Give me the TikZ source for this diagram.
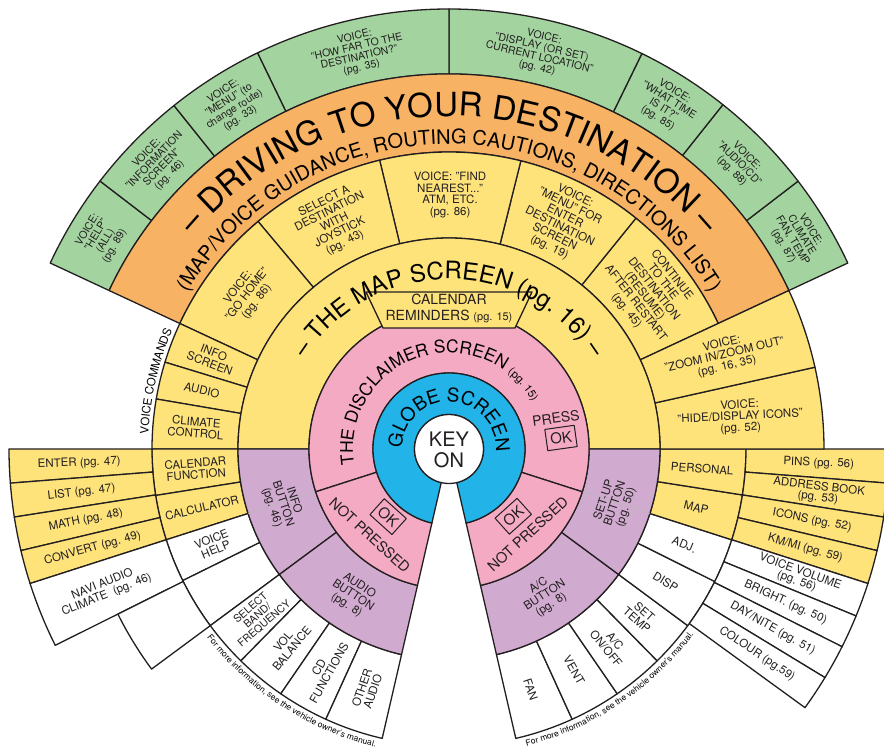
\documentclass[tikz,border=0pt]{standalone}
\usepackage{fontspec}
\setmainfont{TeX Gyre Heros}
\usetikzlibrary{decorations.text}
\definecolor{grn}{HTML}{A3D49F}
\definecolor{org}{HTML}{F8B264}
\definecolor{ylw}{HTML}{FEE37B}
\definecolor{pnk}{HTML}{F5AAC4}
\definecolor{blu}{HTML}{22B3E8}
\definecolor{prp}{HTML}{D1AACF}
\definecolor{ink}{HTML}{231F20}
\newcommand{\ringsec}[5]{\filldraw[fill=#5] (#3:#1) -- (#3:#2) arc[start angle=#3,end angle=#4,radius=#2] -- (#4:#1) arc[start angle=#4,end angle=#3,radius=#1] -- cycle;}
\newcommand{\arctext}[4]{\path[decorate,decoration={text along path,text align=center,text={#4}}] (#2:#1) arc[start angle=#2,end angle=#3,radius=#1];}
\tikzset{
 lab/.style={font=\fontsize{11.5}{11.5}\selectfont, align=center, inner sep=0pt},
 slab/.style={font=\fontsize{10.5}{10.5}\selectfont, align=center, inner sep=0pt},
 glab/.style={font=\fontsize{10.5}{10.5}\selectfont, align=center, inner sep=0pt},
 okbox/.style={draw, line width=1pt, font=\fontsize{15}{15}\selectfont, inner xsep=4pt, inner ysep=5pt},
 bigl/.style={font=\fontsize{14.5}{14.5}\selectfont, inner sep=0pt},
}
\begin{document}
\begin{tikzpicture}[x=1pt,y=1pt,line width=1.3pt,color=ink,line join=round]
\useasboundingbox (-449,-301) rectangle (435,449);
% green ring
\ringsec{375}{440}{25}{37.5}{grn}
\ringsec{375}{440}{37.5}{51.5}{grn}
\ringsec{375}{440}{51.5}{64}{grn}
\ringsec{375}{440}{64}{90}{grn}
\ringsec{375}{440}{90}{115.8}{grn}
\ringsec{375}{440}{115.8}{128.7}{grn}
\ringsec{375}{440}{128.7}{142.5}{grn}
\ringsec{375}{440}{142.5}{155}{grn}
% orange ring
\ringsec{297}{375}{25}{155}{org}
% top yellow boxes
\ringsec{211}{297}{25}{51}{ylw}
\ringsec{211}{297}{51}{76}{ylw}
\ringsec{211}{297}{76}{103.5}{ylw}
\ringsec{211}{297}{103.5}{130}{ylw}
\ringsec{211}{297}{130}{155}{ylw}
% left inner boxes
\ringsec{211}{297}{155}{163}{ylw}
\ringsec{211}{297}{163}{170.3}{ylw}
\ringsec{211}{297}{170.3}{180}{ylw}
\ringsec{211}{297}{180}{189}{ylw}
\ringsec{211}{297}{189}{197.8}{ylw}
\ringsec{211}{297}{197.8}{206.3}{white}
\ringsec{211}{297}{206.3}{216.5}{white}
% left outer boxes
\ringsec{297}{440}{180}{184.45}{ylw}
\ringsec{297}{440}{184.45}{188.9}{ylw}
\ringsec{297}{440}{188.9}{193.35}{ylw}
\ringsec{297}{440}{193.35}{197.8}{ylw}
\ringsec{297}{440}{197.8}{206.5}{white}
\ringsec{297}{370}{206.5}{216.5}{white}
% bottom left boxes
\ringsec{211}{297}{216.5}{225.5}{white}
\ringsec{211}{297}{225.5}{235.5}{white}
\ringsec{211}{297}{235.5}{245.5}{white}
\ringsec{211}{297}{245.5}{257}{white}
% bottom right boxes
\ringsec{211}{297}{283}{294.5}{white}
\ringsec{211}{297}{294.5}{304.5}{white}
\ringsec{211}{297}{304.5}{314.5}{white}
\ringsec{211}{297}{314.5}{323.5}{white}
\ringsec{211}{297}{323.5}{333.5}{white}
\ringsec{211}{297}{333.5}{342.2}{white}
\ringsec{211}{297}{342.2}{351.1}{ylw}
\ringsec{211}{297}{351.1}{360}{ylw}
% right outer boxes
\ringsec{297}{440}{355.55}{360}{ylw}
\ringsec{297}{440}{351.1}{355.55}{ylw}
\ringsec{297}{440}{346.65}{351.1}{ylw}
\ringsec{297}{440}{342.2}{346.65}{ylw}
\ringsec{297}{440}{337.7}{342.2}{white}
\ringsec{297}{440}{333.3}{337.7}{white}
\ringsec{297}{440}{328.7}{333.3}{white}
\ringsec{297}{440}{324}{328.7}{white}
% right big yellow
\ringsec{211}{375}{0}{12.6}{ylw}
\ringsec{211}{375}{12.6}{25}{ylw}
% map screen ring
\ringsec{140}{211}{0}{180}{ylw}
% purple
\ringsec{140}{211}{180}{216.5}{prp}
\ringsec{140}{211}{216.5}{257}{prp}
\ringsec{140}{211}{283}{323.5}{prp}
\ringsec{140}{211}{323.5}{360}{prp}
\draw[gray!55,line width=0.6pt] (197.8:140) -- (197.8:211);
\draw[gray!55,line width=0.6pt] (342.2:140) -- (342.2:211);
% pink
\ringsec{76}{140}{-17.8}{197.8}{pnk}
\ringsec{76}{140}{197.8}{257}{pnk}
\ringsec{76}{140}{283}{342.2}{pnk}
% blue
\ringsec{34.5}{76}{-77}{257}{blu}
% key on
\filldraw[fill=white] (0,0) circle (34.5);
% calendar box
\filldraw[fill=ylw] (-83,157) -- (83,157) -- (66,121) -- (-66,121) -- cycle;

% ---- texts ----
\node[font=\fontsize{20}{21}\selectfont,align=center,inner sep=0pt] (key) at (0,-1) {KEY\\ON};
\node[font=\fontsize{14}{14}\selectfont,inner sep=0pt] (cal1) at (0,150) {CALENDAR};
\node[font=\fontsize{14}{14}\selectfont,inner sep=0pt] (cal2) at (0,133) {REMINDERS {\fontsize{11}{11}\selectfont(pg. 15)}};

\arctext{47}{178}{-2}{|\fontsize{19}{19}\selectfont|GLOBE SCREEN}
\arctext{96}{195}{24}{|\fontsize{17.5}{17.5}\selectfont|THE DISCLAIMER SCREEN |\fontsize{11}{11}\selectfont|(pg. 15)}
\arctext{170}{150}{30}{|\fontsize{24}{24}\selectfont|{–} THE MAP SCREEN (pg. 16) {–}}
\arctext{333}{142}{38}{|\fontsize{33}{33}\selectfont|{–} DRIVING TO YOUR DESTINATION {–}}
\arctext{305}{152}{28}{|\fontsize{20}{20}\selectfont|(MAP/VOICE GUIDANCE{,} ROUTING CAUTIONS{,} DIRECTIONS LIST)}
\arctext{301}{180}{154}{|\fontsize{11.5}{11.5}\selectfont|VOICE COMMANDS}
\arctext{307}{212}{262}{|\fontsize{8.5}{8.5}\selectfont|For more information{,} see the vehicle owner's manual.}
\arctext{307}{279}{328.5}{|\fontsize{8.5}{8.5}\selectfont|For more information{,} see the vehicle owner's manual.}

% pink texts
\node[okbox,rotate=-42] (okL) at (228:91) {OK};
\node[bigl,rotate=-42.6] (npL) at (227.4:117) {NOT PRESSED};
\node[okbox,rotate=42] (okR) at (313.7:93) {OK};
\node[bigl,rotate=42.6] (npR) at (312.8:116) {NOT PRESSED};
\node[bigl,font=\fontsize{14}{14}\selectfont,rotate=8] (press) at (107,31) {PRESS};
\node[okbox,rotate=8] (okT) at (112,11) {OK};

% green texts
\node[glab,rotate=58.75] (gHelp) at (148.75:407) {VOICE:\\"HELP"\\(ALL)\\(pg. 89)};
\node[glab,rotate=45.6] (gInfo) at (135.6:407) {VOICE:\\"INFORMATION\\SCREEN"\\(pg. 46)};
\node[glab,rotate=32.25] (gMenu) at (122.25:407) {VOICE:\\"MENU" (to\\change route)\\(pg. 33)};
\node[glab,rotate=12.9] (gFar) at (102.9:407) {VOICE:\\"HOW FAR TO THE\\DESTINATION?"\\(pg. 35)};
\node[glab,rotate=-13] (gDisp) at (77:407) {VOICE:\\"DISPLAY (OR SET)\\CURRENT LOCATION"\\(pg. 42)};
\node[glab,rotate=-32.25] (gTime) at (57.75:407) {VOICE:\\"WHAT TIME\\IS IT?"\\(pg. 85)};
\node[glab,rotate=-45.5] (gAudio) at (44.5:407) {VOICE:\\"AUDIO/CD"\\(pg. 88)};
\node[glab,rotate=-58.75] (gClim) at (31.25:407) {VOICE:\\CLIMATE\\FAN, TEMP\\(pg. 87)};

% top yellow texts
\node[lab,rotate=52.5] (yHome) at (142.5:254) {VOICE:\\"GO HOME"\\(pg. 86)};
\node[lab,rotate=26.75] (ySel) at (116.75:254) {SELECT A\\DESTINATION\\WITH\\JOYSTICK\\(pg. 43)};
\node[lab] (yFind) at (89.75:254) {VOICE: "FIND\\NEAREST..."\\ATM, ETC.\\(pg. 86)};
\node[lab,rotate=-26.5] (yMenu) at (63.5:254) {VOICE:\\"MENU" FOR\\ENTER\\DESTINATION\\SCREEN\\(pg. 19)};
\node[lab,rotate=-52] (yCont) at (38:254) {CONTINUE\\TO THE\\DESTINATION\\(RESUME)\\AFTER RESTART\\(pg. 45)};

% right big yellow
\node[lab,rotate=13] (zZoom) at (18.8:291) {VOICE:\\"ZOOM IN/ZOOM OUT"\\(pg. 16, 35)};
\node[lab,rotate=3] (zHide) at (6.3:293) {VOICE:\\"HIDE/DISPLAY ICONS"\\(pg. 52)};

% left inner texts
\node[lab,rotate=-21] (lInfo) at (159:254) {INFO\\SCREEN};
\node[lab,rotate=-13.3] (lAudio) at (166.65:254) {AUDIO};
\node[lab,rotate=-4.85] (lClim) at (175.15:254) {CLIMATE\\CONTROL};
\node[lab,rotate=4.5] (lCal) at (184.5:254) {CALENDAR\\FUNCTION};
\node[lab,rotate=13.4] (lCalc) at (193.4:254) {CALCULATOR};
\node[lab,rotate=22] (lVh) at (202:254) {VOICE\\HELP};

% left outer texts
\node[lab,rotate=2.2] (oEnter) at (182.2:370) {ENTER (pg. 47)};
\node[lab,rotate=6.7] (oList) at (186.7:370) {LIST (pg. 47)};
\node[lab,rotate=11.1] (oMath) at (191.1:370) {MATH (pg. 48)};
\node[lab,rotate=15.6] (oConv) at (195.6:370) {CONVERT (pg. 49)};
\node[lab,rotate=22.2] (oNavi) at (202.2:372) {NAVI AUDIO\\CLIMATE~~(pg. 46)};

% bottom left texts
\node[slab,rotate=41] (bSel) at (221:254) {SELECT\\BAND/\\FREQUENCY};
\node[lab,rotate=50.5] (bVol) at (230.5:254) {VOL\\BALANCE};
\node[lab,rotate=60.5] (bCd) at (240.5:254) {CD\\FUNCTIONS};
\node[lab,rotate=71.25] (bOther) at (251.25:254) {OTHER\\AUDIO};

% purple texts
\node[lab,rotate=-71.75] (pInfo) at (198.25:175) {INFO\\BUTTON\\(pg. 46)};
\node[lab,rotate=-33.25] (pAudio) at (236.75:175) {AUDIO\\BUTTON\\(pg. 8)};
\node[lab,rotate=33.25] (pAc) at (303.25:175) {A/C\\BUTTON\\(pg. 8)};
\node[lab,rotate=71.75] (pSet) at (341.75:175) {SET-UP\\BUTTON\\(pg. 50)};

% bottom right texts
\node[lab,rotate=-71.25] (rFan) at (288.75:254) {FAN};
\node[lab,rotate=-60.5] (rVent) at (299.5:254) {VENT};
\node[lab,rotate=-50.5] (rAc) at (309.5:254) {A/C\\ON/OFF};
\node[lab,rotate=-41] (rSet) at (319:254) {SET\\TEMP};
\node[lab,rotate=-31.5] (rDisp) at (328.5:254) {DISP};
\node[lab,rotate=-22.15] (rAdj) at (337.85:254) {ADJ.};
\node[lab,rotate=-13.35] (rMap) at (346.65:254) {MAP};
\node[lab,rotate=-4.45] (rPers) at (355.55:254) {PERSONAL};

% right outer texts
\node[lab,rotate=-2.2] (qPins) at (357.8:370) {PINS (pg. 56)};
\node[lab,font=\fontsize{11.5}{10.5}\selectfont,rotate=-6.7] (qAddr) at (353.3:372) {ADDRESS BOOK\\(pg. 53)};
\node[lab,rotate=-11.1] (qIcons) at (348.9:370) {ICONS (pg. 52)};
\node[lab,rotate=-15.6] (qKm) at (344.4:370) {KM/MI (pg. 59)};
\node[lab,font=\fontsize{11.5}{10.5}\selectfont,rotate=-20.05] (qVv) at (339.95:372) {VOICE VOLUME\\(pg. 56)};
\node[lab,rotate=-24.5] (qBr) at (335.5:370) {BRIGHT. (pg. 50)};
\node[lab,rotate=-29] (qDay) at (331:370) {DAY/NITE (pg. 51)};
\node[lab,rotate=-33.65] (qCol) at (326.35:370) {COLOUR (pg.59)};
\end{tikzpicture}
\end{document}
